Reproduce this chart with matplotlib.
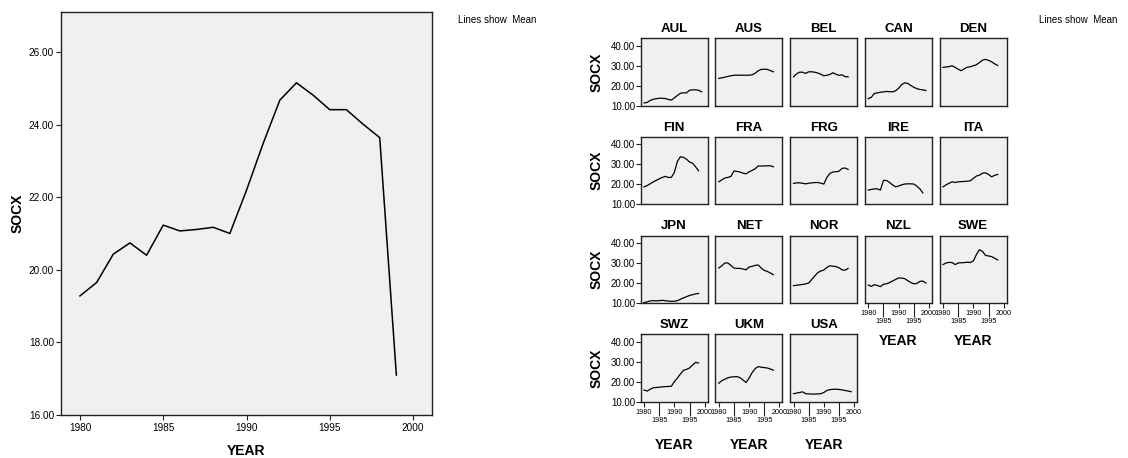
import numpy as np
import matplotlib
matplotlib.use("Agg")
import matplotlib.pyplot as plt

plt.rcParams['font.family'] = ['Liberation Sans', 'DejaVu Sans']

# mean SOCX over all countries, 1980-1999
mean_socx = [19.28, 19.65, 20.43, 20.74, 20.40, 21.23, 21.07, 21.11, 21.17, 21.00,
             22.19, 23.48, 24.67, 25.15, 24.81, 24.41, 24.41, 24.01, 23.64, 17.10]

# per-country SOCX, each series starts in 1980
aul = [11.5, 11.7, 12.7, 13.3, 13.6, 13.8, 13.8, 13.7, 13.2, 12.9, 14.0, 15.2, 16.3, 16.5,
       16.5, 17.8, 18.0, 18.0, 17.8, 17.0]
aus = [23.7, 24.0, 24.3, 24.7, 25.0, 25.3, 25.3, 25.3, 25.3, 25.3, 25.3, 25.5, 26.3, 27.5,
       28.2, 28.3, 28.2, 27.6, 27.0]
bel = [24.5, 26.0, 26.8, 26.8, 26.2, 27.0, 27.0, 26.8, 26.4, 25.8, 25.0, 25.3, 25.7, 26.5,
       25.8, 25.2, 25.5, 24.6, 24.5]
can = [13.6, 14.3, 16.2, 16.5, 16.8, 17.0, 17.2, 17.1, 17.0, 17.5, 18.8, 20.6, 21.5, 21.2,
       20.2, 19.3, 18.6, 18.2, 18.0, 17.7]
den = [29.2, 29.4, 29.6, 30.0, 29.2, 28.3, 27.5, 28.5, 29.3, 29.5, 30.0, 30.5, 31.6, 32.8,
       33.2, 32.7, 32.0, 31.0, 30.2]
fin = [18.8, 19.4, 20.3, 21.2, 22.0, 22.8, 23.5, 24.0, 23.5, 23.5, 26.0, 31.5, 33.8, 33.5,
       32.6, 31.2, 30.6, 28.8, 26.8]
fra = [21.3, 22.3, 23.2, 23.5, 24.0, 26.7, 26.5, 26.2, 25.6, 25.3, 26.3, 27.0, 27.8, 29.2,
       29.2, 29.2, 29.3, 29.3, 28.8]
frg = [20.5, 20.8, 20.8, 20.6, 20.3, 20.6, 20.8, 20.9, 21.0, 20.6, 20.2, 23.5, 25.5, 26.2,
       26.3, 26.6, 28.0, 28.2, 27.5]
ire = [17.2, 17.5, 17.8, 17.8, 17.2, 22.0, 22.0, 21.0, 19.8, 18.8, 19.2, 19.8, 20.2, 20.3,
       20.3, 20.2, 19.2, 17.8, 15.8]
ita = [18.8, 19.8, 20.6, 21.3, 21.0, 21.3, 21.4, 21.5, 21.6, 21.8, 23.0, 24.2, 24.6, 25.6,
       25.8, 25.0, 23.8, 24.5, 25.0]
jpn = [10.3, 10.6, 11.1, 11.2, 11.1, 11.2, 11.4, 11.2, 11.0, 10.9, 10.9, 11.2, 11.9, 12.6,
       13.2, 13.8, 14.2, 14.6, 14.8]
net = [27.5, 28.6, 30.0, 30.0, 28.8, 27.5, 27.3, 27.3, 27.0, 26.6, 28.0, 28.3, 28.8, 29.0,
       27.5, 26.3, 25.8, 25.0, 24.2]
nor = [18.7, 18.9, 19.1, 19.3, 19.6, 20.0, 21.8, 23.5, 25.2, 26.0, 26.5, 27.8, 28.6, 28.4,
       28.2, 27.6, 26.6, 26.4, 27.3]
nzl = [19.0, 18.3, 19.2, 18.8, 18.2, 19.4, 19.6, 20.2, 21.0, 21.8, 22.5, 22.5, 22.2, 21.2,
       20.3, 19.6, 19.8, 20.8, 21.0, 20.0]
swe = [29.2, 30.0, 30.3, 30.2, 29.2, 30.0, 30.1, 30.2, 30.4, 30.2, 31.0, 34.2, 36.6, 35.8,
       33.8, 33.5, 33.2, 32.4, 31.5]
swz = [15.8, 15.3, 16.2, 16.9, 17.1, 17.2, 17.4, 17.5, 17.6, 17.7, 20.0, 21.8, 23.8, 25.6,
       26.1, 26.8, 28.3, 29.6, 29.3]
ukm = [19.2, 20.5, 21.2, 21.9, 22.3, 22.4, 22.5, 22.0, 20.8, 19.6, 21.8, 24.5, 26.5, 27.5,
       27.2, 27.0, 26.8, 26.3, 25.7]
usa = [14.0, 14.3, 14.6, 14.9, 14.0, 13.9, 13.8, 13.8, 13.9, 14.0, 14.6, 15.6, 16.0, 16.2,
       16.2, 16.1, 15.9, 15.6, 15.3, 15.0]

countries = ["AUL", "AUS", "BEL", "CAN", "DEN",
             "FIN", "FRA", "FRG", "IRE", "ITA",
             "JPN", "NET", "NOR", "NZL", "SWE",
             "SWZ", "UKM", "USA"]
series = [aul, aus, bel, can, den, fin, fra, frg, ire, ita,
          jpn, net, nor, nzl, swe, swz, ukm, usa]

left_yticks = [16, 18, 20, 22, 24, 26]
left_xticks = [1980, 1985, 1990, 1995, 2000]
panel_yticks = [10, 20, 30, 40]

W, H = 1128, 458
fig = plt.figure(figsize=(W / 100, H / 100), dpi=100)
fig.patch.set_facecolor("white")

BG = "#f0f0f0"
EDGE = "#222222"


def add_px_axes(left, top, w, h):
    return fig.add_axes([left / W, 1 - (top + h) / H, w / W, h / H])


def style_box(ax):
    ax.set_facecolor(BG)
    for sp in ax.spines.values():
        sp.set_color(EDGE)
        sp.set_linewidth(1.0)


# -------- left: overall mean --------
ax = add_px_axes(61, 12, 371, 403)
style_box(ax)
yrs = np.arange(1980, 1980 + len(mean_socx))
ax.plot(yrs, mean_socx, color="black", lw=1.1)
ax.set_xlim(1978.86, 2001.14)
ax.set_ylim(16, 27.1)
ax.set_yticks(left_yticks)
ax.set_yticklabels([f"{v:.2f}" for v in left_yticks])
ax.set_xticks(left_xticks)
ax.tick_params(labelsize=7.2, length=3.5, width=0.8, pad=1.5, color=EDGE)
ax.tick_params(axis="x", pad=2.5)
fig.text(17.5 / W, 1 - 213 / H, "SOCX", rotation=90, ha="center", va="center",
         fontsize=10, fontweight="bold")
fig.text(246.5 / W, 1 - 451 / H, "YEAR", ha="center", va="center",
         fontsize=10, fontweight="bold")
fig.text(458 / W, 1 - 20 / H, "Lines show  Mean", ha="left", va="center", fontsize=7)

# -------- right: one small panel per country --------
col_left = 640.7
col_step = 74.75
row_top = 38.3
row_step = 98.6
pw, ph = 67.0, 67.6
bottom_panels = {"NZL", "SWE", "SWZ", "UKM", "USA"}

for i, (name, vals) in enumerate(zip(countries, series)):
    r, c = divmod(i, 5)
    ax = add_px_axes(col_left + c * col_step, row_top + r * row_step, pw, ph)
    style_box(ax)
    yrs = np.arange(1980, 1980 + len(vals))
    ax.plot(yrs, vals, color="black", lw=0.9)
    ax.set_xlim(1978.9, 2001.0)
    ax.set_ylim(10, 43.7)
    ax.set_title(name, fontsize=9.5, fontweight="bold", pad=4.5)

    if c == 0:
        ax.set_yticks(panel_yticks)
        ax.set_yticklabels([f"{v:.2f}" for v in panel_yticks])
        ax.tick_params(axis="y", labelsize=7, length=3.5, width=0.8, pad=0.5, color=EDGE)
        fig.text(596.7 / W, 1 - (row_top + r * row_step + ph / 2) / H, "SOCX",
                 rotation=90, ha="center", va="center", fontsize=10, fontweight="bold")
    else:
        ax.set_yticks([])

    if name in bottom_panels:
        ax.set_xticks([1980, 1990, 2000])
        ax.set_xticklabels(["1980", "1990", "2000"])
        ax.set_xticks([1985, 1995], minor=True)
        ax.set_xticklabels(["1985", "1995"], minor=True)
        ax.tick_params(axis="x", which="major", labelsize=5.2, length=3.5, width=0.8,
                       pad=1.8, color=EDGE)
        ax.tick_params(axis="x", which="minor", labelsize=5.2, length=10.4, width=0.8,
                       pad=0.6, color=EDGE)
        ytop = row_top + r * row_step + ph
        gap = 38 if r == 3 else 33
        fig.text((col_left + c * col_step + pw / 2) / W, 1 - (ytop + gap + 5) / H, "YEAR",
                 ha="center", va="center", fontsize=10, fontweight="bold")
    else:
        ax.set_xticks([])

fig.text(1039 / W, 1 - 20 / H, "Lines show  Mean", ha="left", va="center", fontsize=7)

fig.savefig("out.png", dpi=100)
